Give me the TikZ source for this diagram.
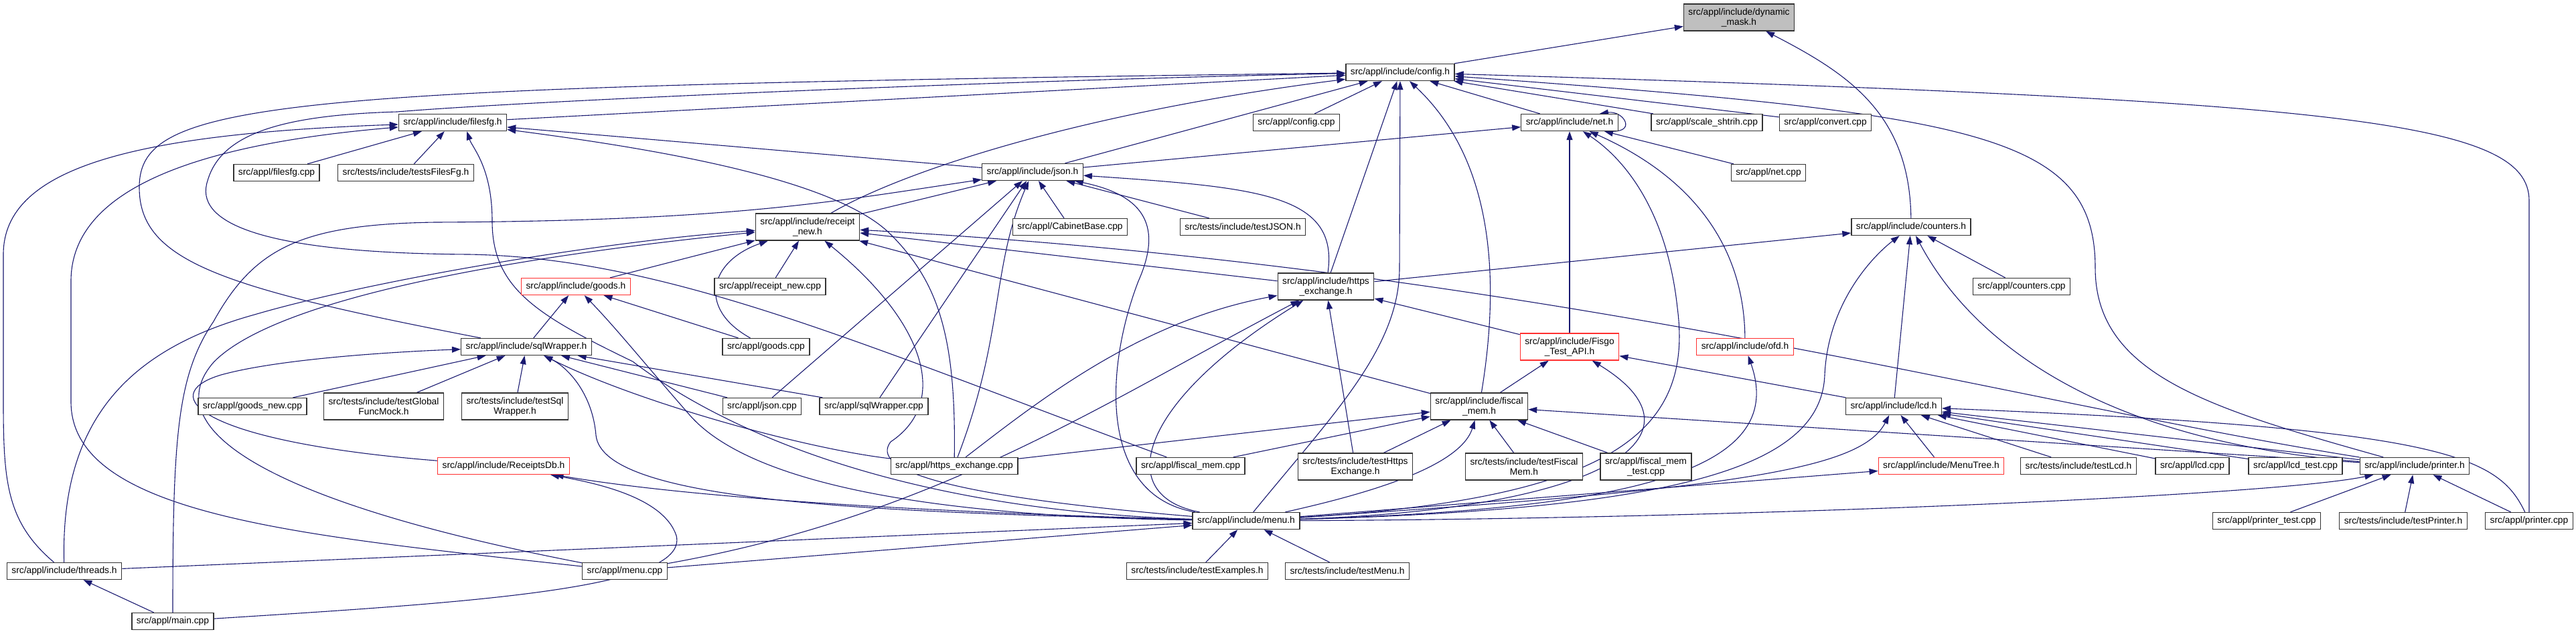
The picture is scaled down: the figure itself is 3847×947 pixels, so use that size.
\documentclass[tikz,border=0pt]{standalone}
\usepackage{fontspec}
\setmainfont{Liberation Sans}
\usepackage{xcolor}
\usetikzlibrary{arrows.meta}
\definecolor{edgeblue}{HTML}{191970}
\definecolor{rootgray}{HTML}{BFBFBF}
\definecolor{truncred}{HTML}{FF3030}
\pgfdeclarelayer{bg}
\pgfsetlayers{bg,main}

\begin{document}
\begin{tikzpicture}[x=1pt, y=-1pt,
  filenode/.style={draw=black!80, line width=1.3pt, fill=white, align=center, inner xsep=7pt, inner ysep=3pt, minimum height=25pt, font=\fontsize{13.8}{15}\selectfont},
  twoline/.style={filenode, minimum height=40pt},
  redfile/.style={filenode, draw=truncred},
  rootfile/.style={twoline, fill=rootgray},
  edge/.style={draw=edgeblue, line width=1.1pt, -{Triangle[length=13pt,width=9pt]}}
]
\useasboundingbox (0,0) rectangle (3847,947);

\node[rootfile] (dynmask) at (2597,26) {src/appl/include/dynamic\\\_mask.h};
\node[filenode] (config) at (2091,108) {src/appl/include/config.h};
\node[filenode] (filesfg) at (676,183) {src/appl/include/filesfg.h};
\node[filenode] (configcpp) at (1936,183) {src/appl/config.cpp};
\node[filenode] (net) at (2344,183) {src/appl/include/net.h};
\node[filenode] (scale) at (2549,183) {src/appl/scale\_shtrih.cpp};
\node[filenode] (convert) at (2726,183) {src/appl/convert.cpp};
\node[filenode] (filesfgcpp) at (413,258) {src/appl/filesfg.cpp};
\node[filenode] (testsfilesfg) at (606,258) {src/tests/include/testsFilesFg.h};
\node[filenode] (json) at (1542,257) {src/appl/include/json.h};
\node[filenode] (netcpp) at (2641,258) {src/appl/net.cpp};
\node[twoline] (receipt) at (1206,339) {src/appl/include/receipt\\\_new.h};
\node[filenode] (cabinet) at (1598,339) {src/appl/CabinetBase.cpp};
\node[filenode] (testjson) at (1856,339) {src/tests/include/testJSON.h};
\node[filenode] (counters) at (2854,339) {src/appl/include/counters.h};
\node[redfile] (goods) at (860,428) {src/appl/include/goods.h};
\node[filenode] (receiptcpp) at (1150,428) {src/appl/receipt\_new.cpp};
\node[twoline] (https) at (1980,428) {src/appl/include/https\\\_exchange.h};
\node[filenode] (counterscpp) at (3019,428) {src/appl/counters.cpp};
\node[filenode] (sqlw) at (786,518) {src/appl/include/sqlWrapper.h};
\node[filenode] (goodscpp) at (1144,518) {src/appl/goods.cpp};
\node[twoline, draw=truncred] (fisgo) at (2344,518) {src/appl/include/Fisgo\\\_Test\_API.h};
\node[redfile] (ofd) at (2606,518) {src/appl/include/ofd.h};
\node[filenode] (goodsnew) at (377,607) {src/appl/goods\_new.cpp};
\node[twoline] (globalmock) at (573,607) {src/tests/include/testGlobal\\FuncMock.h};
\node[twoline] (testsqlw) at (769,607) {src/tests/include/testSql\\Wrapper.h};
\node[filenode] (jsoncpp) at (1138,607) {src/appl/json.cpp};
\node[filenode] (sqlwcpp) at (1305,607) {src/appl/sqlWrapper.cpp};
\node[twoline] (fiscal) at (2209,607) {src/appl/include/fiscal\\\_mem.h};
\node[filenode] (lcd) at (2828,607) {src/appl/include/lcd.h};
\node[redfile] (receiptsdb) at (752,696) {src/appl/include/ReceiptsDb.h};
\node[filenode] (httpscpp) at (1425,696) {src/appl/https\_exchange.cpp};
\node[filenode] (fiscalcpp) at (1778,696) {src/appl/fiscal\_mem.cpp};
\node[twoline] (testhttps) at (2024,697) {src/tests/include/testHttps\\Exchange.h};
\node[twoline] (testfiscal) at (2276,697) {src/tests/include/testFiscal\\Mem.h};
\node[twoline] (fiscaltest) at (2458,697) {src/appl/fiscal\_mem\\\_test.cpp};
\node[redfile] (menutree) at (2899,696) {src/appl/include/MenuTree.h};
\node[filenode] (testlcd) at (3104,696) {src/tests/include/testLcd.h};
\node[filenode] (lcdcpp) at (3274,696) {src/appl/lcd.cpp};
\node[filenode] (lcdtest) at (3428,696) {src/appl/lcd\_test.cpp};
\node[filenode] (printer) at (3606,696) {src/appl/include/printer.h};
\node[filenode] (menu) at (1861,778) {src/appl/include/menu.h};
\node[filenode] (printertest) at (3385,778) {src/appl/printer\_test.cpp};
\node[filenode] (testprinter) at (3589,778) {src/tests/include/testPrinter.h};
\node[filenode] (printercpp) at (3777,778) {src/appl/printer.cpp};
\node[filenode] (threads) at (96,853) {src/appl/include/threads.h};
\node[filenode] (menucpp) at (933,853) {src/appl/menu.cpp};
\node[filenode] (testexamples) at (1788,853) {src/tests/include/testExamples.h};
\node[filenode] (testmenu) at (2012,853) {src/tests/include/testMenu.h};
\node[filenode] (maincpp) at (258,928) {src/appl/main.cpp};

\begin{pgfonlayer}{bg}
\draw[edge] (config) -- (dynmask);
\draw[edge] (counters) .. controls (2852,170) and (2760,110) .. (dynmask);

\draw[edge] (filesfg) -- (config);
\draw[edge] (configcpp) -- (config);
\draw[edge] (json) -- (config);
\draw[edge] (net) -- (config);
\draw[edge] (scale) -- (config);
\draw[edge] (convert) -- (config);
\draw[edge] (receipt) .. controls (1340,260) and (1600,170) .. (config);
\draw[edge] (https) -- (config);
\draw[edge] (menu) .. controls (1990,620) and (2090,520) .. (2090,400) -- (config);
\draw[edge] (fiscal) .. controls (2240,420) and (2232,240) .. (config);
\draw[edge] (printer) .. controls (3300,610) and (3129,560) .. (3129,400) .. controls (3129,200) and (2950,170) .. (config);
\draw[edge] (printercpp) -- (3777,300) .. controls (3777,180) and (3500,150) .. (config);
\draw[edge] (sqlw) .. controls (330,430) and (208,390) .. (208,280) .. controls (208,150) and (400,130) .. (config);
\draw[edge] (fiscalcpp) .. controls (1300,520) and (1000,385) .. (700,380) .. controls (380,378) and (290,330) .. (310,270) .. controls (330,200) and (420,172) .. (593,167) .. controls (800,150) and (1500,120) .. (config);

\draw[edge] (filesfgcpp) -- (filesfg);
\draw[edge] (testsfilesfg) -- (filesfg);
\draw[edge] (json) -- (filesfg);
\draw[edge] (threads) .. controls (10,780) and (5,720) .. (5,600) -- (5,380) .. controls (5,250) and (200,200) .. (filesfg);
\draw[edge] (menucpp) .. controls (450,800) and (106,770) .. (106,600) -- (106,420) .. controls (106,280) and (300,215) .. (filesfg);
\draw[edge] (httpscpp) .. controls (1428,500) and (1400,420) .. (1330,350) .. controls (1250,270) and (1000,225) .. (filesfg);
\draw[edge] (menu) .. controls (1300,760) and (1050,620) .. (945,540) .. controls (800,470) and (735,430) .. (735,330) .. controls (735,250) and (705,220) .. ([xshift=-60pt]filesfg.south east);

\draw[edge] (maincpp) .. controls (258,650) and (265,560) .. (319,480) .. controls (380,370) and (450,335) .. (650,332) .. controls (1100,330) and (1250,300) .. (json);
\draw[edge] (receipt) -- (json);
\draw[edge] (jsoncpp) -- (json);
\draw[edge] (sqlwcpp) -- (json);
\draw[edge] (httpscpp) .. controls (1500,500) and (1480,400) .. (json);
\draw[edge] (cabinet) -- (json);
\draw[edge] (testjson) -- (json);
\draw[edge] (https) .. controls (2000,290) and (1880,280) .. (json);
\draw[edge] (menu) .. controls (1640,740) and (1650,550) .. (1700,420) .. controls (1740,330) and (1700,290) .. (json);

\draw[edge] (json) -- (net);
\draw[edge] ([xshift=-8pt]net.south east) .. controls +(35,0) and +(35,-5) .. ([xshift=-28pt]net.north east);
\draw[edge] (fisgo) -- (net);
\draw[edge] (menu) .. controls (2400,745) and (2530,650) .. (2505,460) .. controls (2490,320) and (2430,240) .. (net);
\draw[edge] (netcpp) -- (net);
\draw[edge] (ofd) .. controls (2605,380) and (2540,270) .. (net);

\draw[edge] (goods) -- (receipt);
\draw[edge] (goodscpp) .. controls (1040,460) and (1060,390) .. (receipt);
\draw[edge] (receiptcpp) -- (receipt);
\draw[edge] (threads) .. controls (90,620) and (200,520) .. (380,470) .. controls (550,420) and (900,360) .. (receipt);
\draw[edge] (menucpp) .. controls (400,750) and (230,640) .. (320,540) .. controls (420,440) and (800,380) .. (receipt);
\draw[edge] (printer) .. controls (3000,600) and (2300,400) .. (receipt);
\draw[edge] (https) -- (receipt);
\draw[edge] (fiscal) -- (receipt);
\draw[edge] (menu) .. controls (1400,740) and (1300,700) .. (1330,660) .. controls (1420,600) and (1380,480) .. (receipt);

\draw[edge] (sqlw) -- (goods);
\draw[edge] (goodscpp) -- (goods);
\draw[edge] (menu) .. controls (1300,770) and (1100,700) .. (1030,620) .. controls (960,540) and (920,490) .. (goods);

\draw[edge] (receiptsdb) .. controls (300,660) and (230,590) .. (330,560) .. controls (420,535) and (600,525) .. (sqlw);
\draw[edge] (goodsnew) -- (sqlw);
\draw[edge] (globalmock) -- (sqlw);
\draw[edge] (testsqlw) -- (sqlw);
\draw[edge] (sqlwcpp) -- (sqlw);
\draw[edge] (jsoncpp) -- (sqlw);
\draw[edge] (httpscpp) .. controls (1200,670) and (950,600) .. (sqlw);
\draw[edge] (menu) .. controls (1300,765) and (900,750) .. (890,650) .. controls (885,590) and (850,550) .. (sqlw);

\draw[edge] (maincpp) .. controls (700,900) and (1030,880) .. (1010,800) .. controls (990,740) and (880,720) .. (receiptsdb);
\draw[edge] (menu) .. controls (1200,760) and (950,730) .. (receiptsdb);

\draw[edge] (maincpp) -- (threads);

\draw[edge] (threads) -- (menu);
\draw[edge] (menucpp) -- (menu);
\draw[edge] (testexamples) -- (menu);
\draw[edge] (testmenu) -- (menu);

\draw[edge] (httpscpp) .. controls (1550,600) and (1700,480) .. (https);
\draw[edge] (menucpp) .. controls (1400,770) and (1650,600) .. (https);
\draw[edge] (menu) .. controls (1660,740) and (1700,600) .. (https);
\draw[edge] (testhttps) -- (https);
\draw[edge] (fisgo) -- (https);

\draw[edge] (https) -- (counters);
\draw[edge] (menu) .. controls (2500,760) and (2720,700) .. (2725,560) .. controls (2730,450) and (2800,380) .. (counters);
\draw[edge] (lcd) -- (counters);
\draw[edge] (printer) .. controls (3150,660) and (2950,520) .. (counters);
\draw[edge] (counterscpp) -- (counters);

\draw[edge] (fiscal) -- (fisgo);
\draw[edge] (menu) .. controls (2400,760) and (2560,650) .. (fisgo);
\draw[edge] (lcd) -- (fisgo);

\draw[edge] (menu) .. controls (2450,760) and (2670,700) .. (ofd);

\draw[edge] (httpscpp) -- (fiscal);
\draw[edge] (fiscalcpp) -- (fiscal);
\draw[edge] (testhttps) -- (fiscal);
\draw[edge] (menu) .. controls (2030,740) and (2180,700) .. (fiscal);
\draw[edge] (testfiscal) -- (fiscal);
\draw[edge] (fiscaltest) -- (fiscal);
\draw[edge] (printer) -- (fiscal);

\draw[edge] (printercpp) .. controls (3730,680) and (3650,640) .. (lcd);
\draw[edge] (menu) .. controls (2600,730) and (2780,700) .. (lcd);
\draw[edge] (menutree) -- (lcd);
\draw[edge] (testlcd) -- (lcd);
\draw[edge] (lcdcpp) -- (lcd);
\draw[edge] (lcdtest) -- (lcd);
\draw[edge] (printer) -- (lcd);

\draw[edge] (menu) -- (menutree);

\draw[edge] (menu) .. controls (2600,775) and (3400,740) .. (printer);
\draw[edge] (printertest) -- (printer);
\draw[edge] (testprinter) -- (printer);
\draw[edge] (printercpp) -- (printer);
\end{pgfonlayer}
\end{tikzpicture}
\end{document}
